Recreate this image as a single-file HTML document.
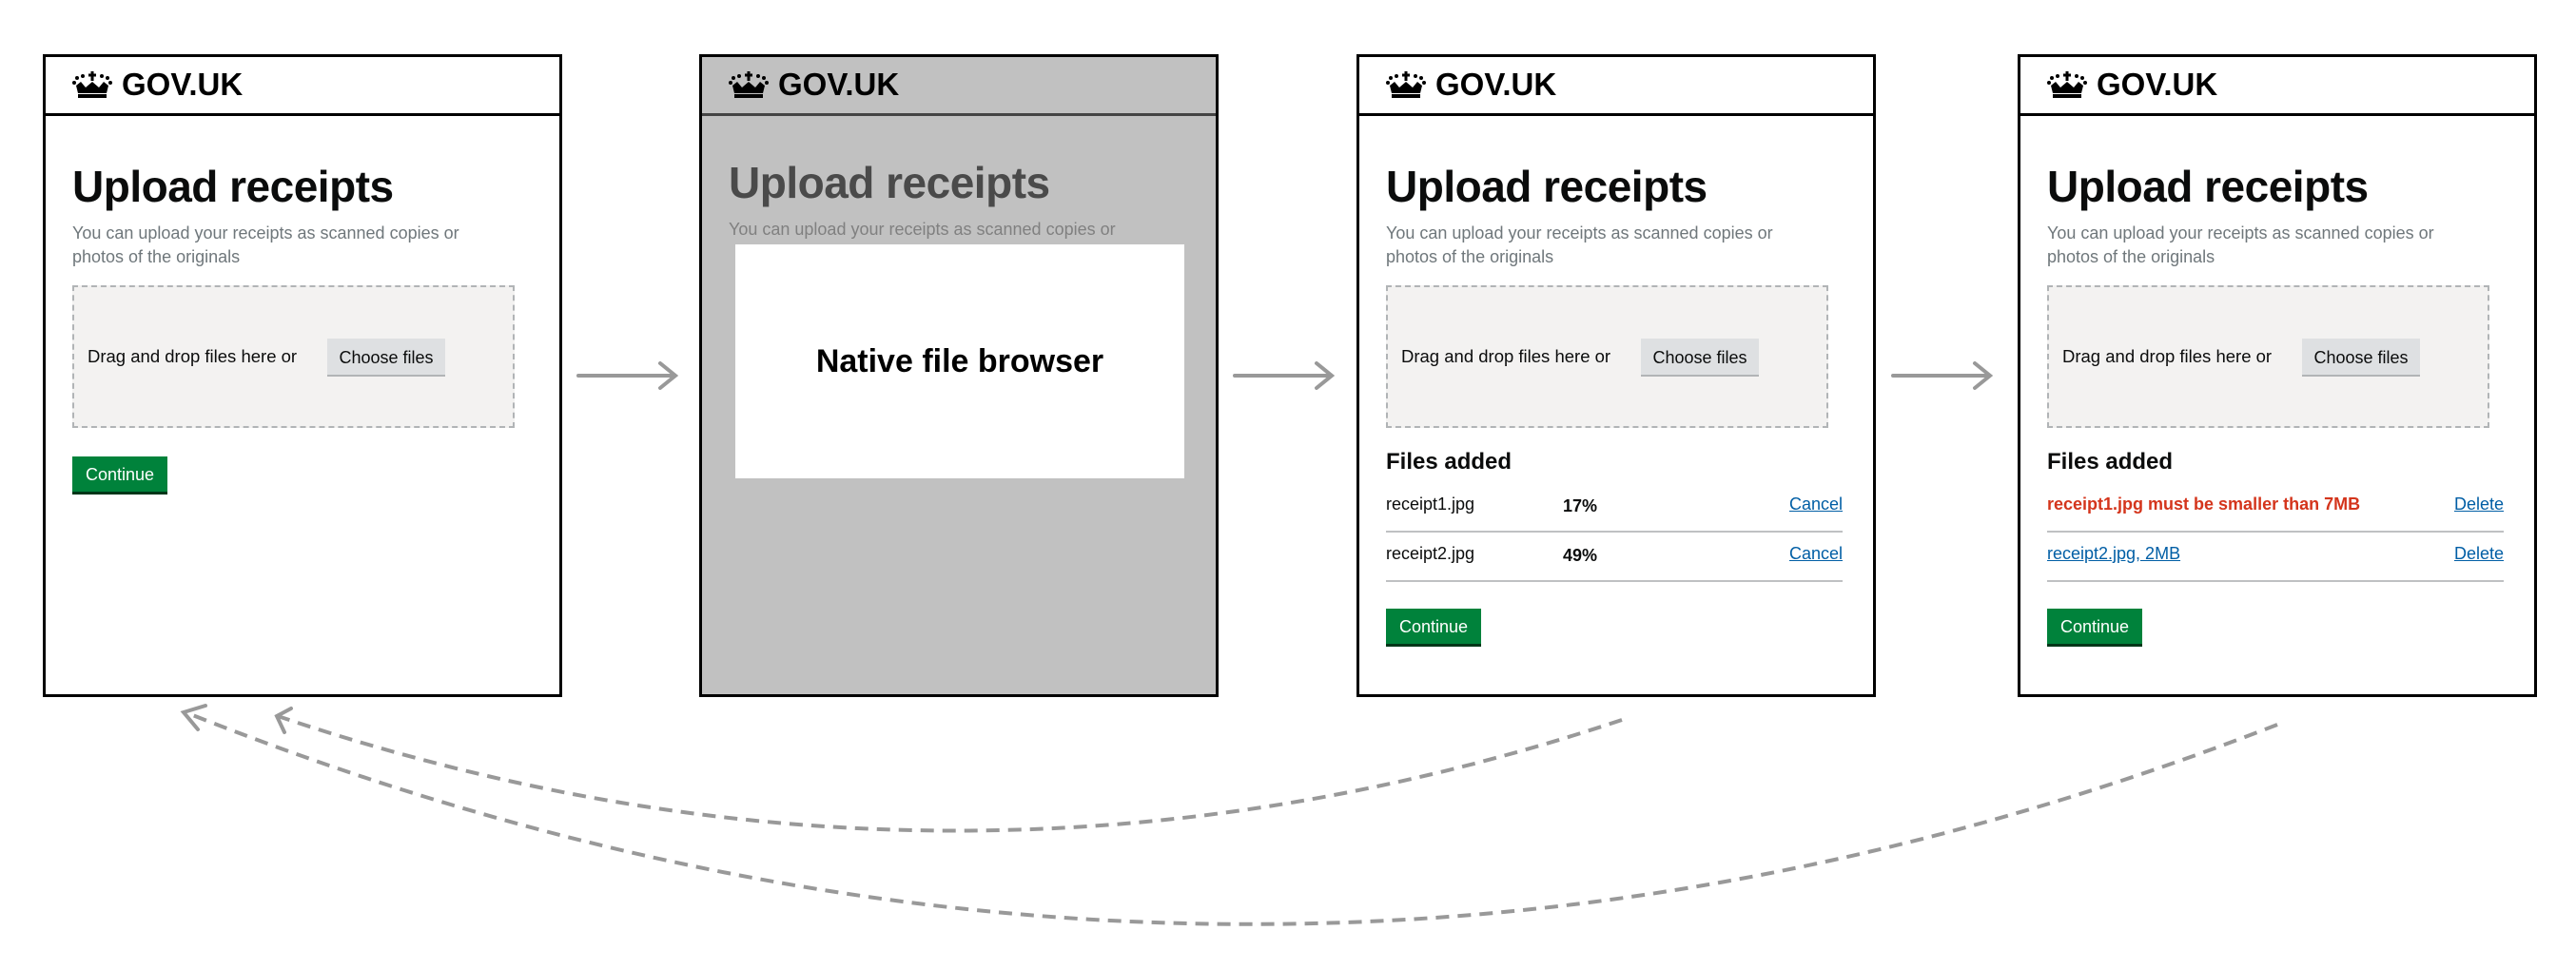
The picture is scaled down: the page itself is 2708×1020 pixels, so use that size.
<!DOCTYPE html>
<html><head><meta charset="utf-8"><style>
body{margin:0;width:2708px;height:1020px;background:#fff;position:relative;overflow:hidden;font-family:"Liberation Sans",sans-serif}
.f{position:absolute;top:57px;width:540px;height:670px;border:3.5px solid #000;background:#fff}
.hd{position:absolute;left:0;top:0;right:0;height:59px;border-bottom:3.5px solid #000}
.logo{position:absolute;left:28px;top:10px;font-weight:bold;font-size:33px;color:#000;display:flex;align-items:center;gap:10px}
.t{position:absolute;left:28px;top:109px;font-weight:bold;font-size:46px;color:#0b0c0c;letter-spacing:-0.5px}
.s{position:absolute;left:28px;top:173px;font-size:18px;line-height:25px;color:#6f777b;width:430px}
.dz{position:absolute;left:28px;top:240px;width:465px;height:150px;background:#f3f2f1;border:2px dashed #b1b4b6;box-sizing:border-box}
.dz span{position:absolute;left:14px;top:62px;font-size:18.5px;color:#0b0c0c}
.cf{position:absolute;left:266px;top:54px;width:124px;height:40px;background:#dee0e2;border-bottom:2px solid #b1b4b6;font-size:18px;line-height:40px;text-align:center;color:#0b0c0c;box-sizing:border-box}
.btn{position:absolute;left:28px;width:100px;height:40px;background:#00823b;border-bottom:3px solid #003618;color:#fff;font-size:18px;line-height:38px;text-align:center;box-sizing:border-box}
.fa{position:absolute;left:28px;top:412px;font-size:24px;font-weight:bold;color:#0b0c0c}
.row{position:absolute;left:28px;width:480px;height:50px;border-bottom:2px solid #bfc1c3;font-size:18px;color:#0b0c0c}
.row .a{position:absolute;left:0;top:12px}
.row .p{position:absolute;left:186px;top:14px;font-weight:bold}
.row .l{position:absolute;right:0;top:12px;color:#005ea5;text-decoration:underline}
</style></head><body>
<svg width="0" height="0" style="position:absolute"><defs>
<symbol id="cr" viewBox="0 0 42 30"><g fill="#000"><rect x="19.5" y="1" width="3" height="10"/><rect x="17" y="3.5" width="8" height="3"/><circle cx="5" cy="8" r="2"/><circle cx="11" cy="6" r="2"/><circle cx="31" cy="6" r="2"/><circle cx="37" cy="8" r="2"/><circle cx="2" cy="13" r="2"/><circle cx="40" cy="13" r="2"/><path d="M4 16 L9 12 L14 18 L21 12 L28 18 L33 12 L38 16 L36 24 L6 24 Z"/><rect x="6" y="25" width="30" height="4"/></g></symbol>
</defs></svg>

<div class="f" style="left:45px">
<div class="hd"><div class="logo"><svg width="42" height="30"><use href="#cr"/></svg>GOV.UK</div></div>
<div class="t">Upload receipts</div>
<div class="s">You can upload your receipts as scanned copies or photos of the originals</div>
<div class="dz"><span>Drag and drop files here or</span><div class="cf">Choose files</div></div>
<div class="btn" style="top:420px">Continue</div>
</div>

<div class="f" style="left:735px;background:#c1c1c1">
<div class="hd" style="border-bottom-color:#444"><div class="logo"><svg width="42" height="30"><use href="#cr"/></svg>GOV.UK</div></div>
<div class="t" style="color:#4a4a4a;top:105px">Upload receipts</div>
<div class="s" style="color:#808080;top:169px">You can upload your receipts as scanned copies or</div>
<div style="position:absolute;left:35px;top:197px;width:472px;height:246px;background:#fff;font-weight:bold;font-size:34px;text-align:center;line-height:246px;color:#000">Native file browser</div>
</div>

<div class="f" style="left:1426px">
<div class="hd"><div class="logo"><svg width="42" height="30"><use href="#cr"/></svg>GOV.UK</div></div>
<div class="t">Upload receipts</div>
<div class="s">You can upload your receipts as scanned copies or photos of the originals</div>
<div class="dz"><span>Drag and drop files here or</span><div class="cf">Choose files</div></div>
<div class="fa">Files added</div>
<div class="row" style="top:448px"><span class="a">receipt1.jpg</span><span class="p">17%</span><span class="l">Cancel</span></div>
<div class="row" style="top:500px"><span class="a">receipt2.jpg</span><span class="p">49%</span><span class="l">Cancel</span></div>
<div class="btn" style="top:580px">Continue</div>
</div>

<div class="f" style="left:2121px">
<div class="hd"><div class="logo"><svg width="42" height="30"><use href="#cr"/></svg>GOV.UK</div></div>
<div class="t">Upload receipts</div>
<div class="s">You can upload your receipts as scanned copies or photos of the originals</div>
<div class="dz"><span>Drag and drop files here or</span><div class="cf">Choose files</div></div>
<div class="fa">Files added</div>
<div class="row" style="top:448px"><span class="a" style="color:#d4351c;font-weight:bold">receipt1.jpg must be smaller than 7MB</span><span class="l">Delete</span></div>
<div class="row" style="top:500px"><span class="a" style="color:#005ea5;text-decoration:underline">receipt2.jpg, 2MB</span><span class="l">Delete</span></div>
<div class="btn" style="top:580px">Continue</div>
</div>

<svg width="2708" height="1020" style="position:absolute;left:0;top:0" fill="none" stroke="#999" stroke-width="4">
<g stroke-linecap="round">
<path d="M608 395 H708 M694 382 L710 395 L694 408"/>
<path d="M1298 395 H1398 M1384 382 L1400 395 L1384 408"/>
<path d="M1990 395 H2090 M2076 382 L2092 395 L2076 408"/>
</g>
<path d="M1705 757 Q1000 992 292 753" stroke-dasharray="14 9"/>
<path d="M2394 762 Q1300 1188 195 749" stroke-dasharray="14 9"/>
<path d="M306 745 L291 753 L299 770" stroke-linecap="round"/>
<path d="M216 742 L193 749 L208 767" stroke-linecap="round"/>
</svg>
</body></html>
